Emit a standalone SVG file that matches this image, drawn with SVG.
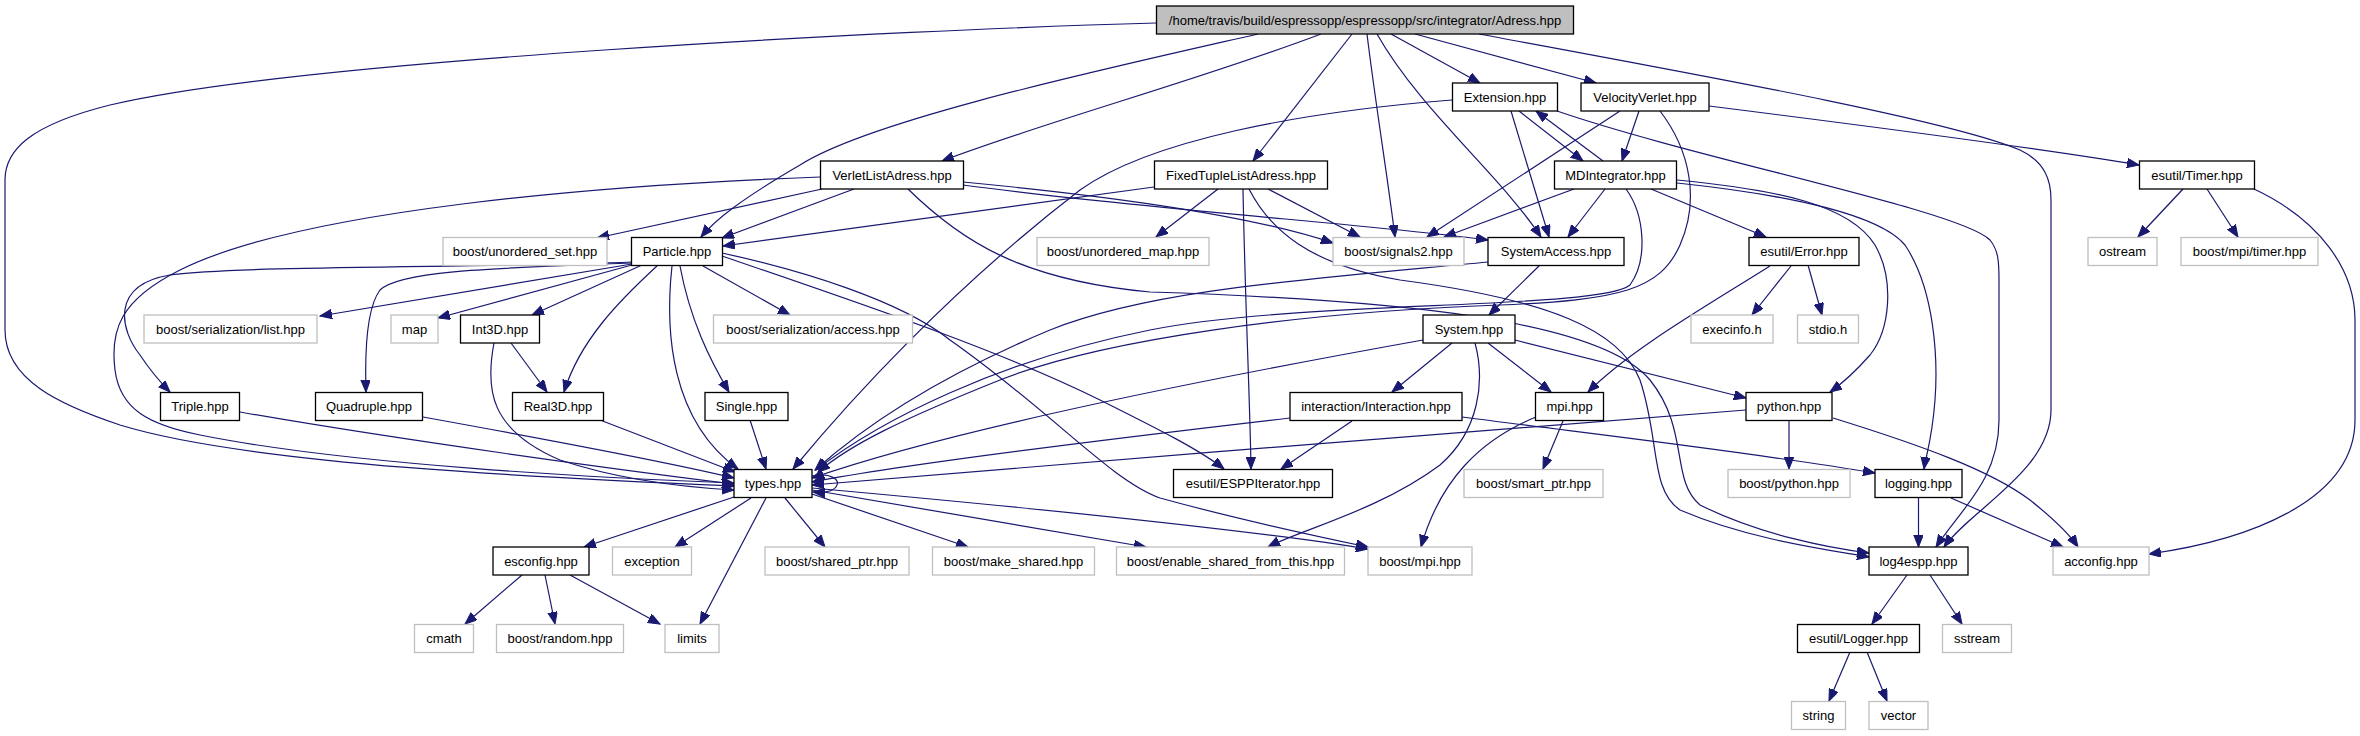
<svg xmlns="http://www.w3.org/2000/svg" width="2360" height="736" viewBox="0 0 2360 736">
<style>
.n rect{fill:#fff;stroke:#000;stroke-width:1.3}
.x rect{fill:#fff;stroke:#bfbfbf;stroke-width:1.3}
.m rect{fill:#bfbfbf;stroke:#000;stroke-width:1.3}
text{font-family:"Liberation Sans",Arial,Helvetica,sans-serif;font-size:13px;fill:#000;text-anchor:middle}
#edges path{fill:none;stroke:#191970;stroke-width:1.2;marker-end:url(#a)}
</style>
<defs>
<marker id="a" markerUnits="userSpaceOnUse" markerWidth="13" markerHeight="10" refX="12" refY="4.75" orient="auto"><path d="M0,0 L12,4.75 L0,9.5 z" fill="#191970" stroke="#191970" stroke-width="1"/></marker>
</defs>
<rect width="2360" height="736" fill="#fff"/>
<g id="edges">
<path d="M1156,23 C900,30 300,60 110,105 C30,125 5,150 5,180 L5,330 C5,380 60,405 120,425 C250,465 550,478 734,486"/>
<path d="M1258,34 C1100,70 870,120 800,165 C740,200 715,220 701,237"/>
<path d="M1321,34 C1200,80 1050,120 942,161"/>
<path d="M1352,34 L1253,161"/>
<path d="M1367,34 C1375,100 1388,180 1395,237"/>
<path d="M1377,34 C1420,110 1500,175 1541,237"/>
<path d="M1391,34 L1480,83"/>
<path d="M1415,34 L1596,83"/>
<path d="M1479,34 C1700,75 1950,120 2020,150 C2045,162 2051,180 2051,200 L2051,410 C2051,470 1970,510 1944,547"/>
<path d="M820,177 C600,185 300,210 180,270 C120,300 110,330 115,370 C120,410 150,425 200,435 C350,465 600,478 734,483"/>
<path d="M822,189 L597,238"/>
<path d="M854,189 L722,238"/>
<path d="M963,182 C1100,195 1250,215 1333,243"/>
<path d="M963,185 C1150,210 1380,225 1488,240"/>
<path d="M908,189 C960,240 1020,280 1150,292 C1400,300 1600,320 1650,380 C1690,430 1670,480 1700,505 C1760,535 1830,548 1869,553"/>
<path d="M1154,187 L723,246"/>
<path d="M1218,189 L1156,237"/>
<path d="M1268,189 L1360,237"/>
<path d="M1243,189 C1245,300 1250,400 1251,469"/>
<path d="M1249,189 C1270,230 1310,265 1400,280 C1550,300 1620,330 1640,380 C1660,440 1650,490 1680,510 C1750,540 1830,550 1869,557"/>
<path d="M1452,100 C1300,112 1150,140 1080,190 C950,290 850,400 793,469"/>
<path d="M1511,111 L1549,237"/>
<path d="M1519,111 L1583,161"/>
<path d="M1557,111 C1700,160 1960,210 1990,240 C1998,250 1999,260 1999,280 L1999,420 C1999,480 1960,510 1936,547"/>
<path d="M1603,161 L1536,111"/>
<path d="M1620,111 L1427,237"/>
<path d="M1639,111 L1622,161"/>
<path d="M1660,111 C1690,150 1700,200 1680,245 C1660,290 1620,300 1500,305 C1300,312 1100,340 1000,380 C900,420 850,445 818,472"/>
<path d="M1709,106 C1900,130 2050,150 2139,165"/>
<path d="M1574,189 L1444,237"/>
<path d="M1605,189 L1568,237"/>
<path d="M1626,189 C1645,215 1648,260 1630,285 C1600,310 1300,300 1150,330 C1000,360 880,420 816,470"/>
<path d="M1651,189 L1766,237"/>
<path d="M1677,180 C1780,190 1850,205 1875,245 C1895,280 1890,330 1870,355 C1855,372 1840,385 1830,392"/>
<path d="M1677,183 C1790,195 1880,215 1905,245 C1935,290 1938,360 1935,400 C1932,440 1926,455 1924,469"/>
<path d="M1488,262 C1300,280 1150,290 1050,330 C930,380 860,430 815,470"/>
<path d="M1540,265 L1489,315"/>
<path d="M1791,266 L1752,315"/>
<path d="M1808,265 L1822,315"/>
<path d="M1770,266 C1700,310 1630,350 1588,392"/>
<path d="M1423,340 C1200,380 950,430 812,478"/>
<path d="M1452,343 L1392,392"/>
<path d="M1488,343 L1551,392"/>
<path d="M1515,340 L1746,398"/>
<path d="M1475,343 C1485,380 1480,430 1440,465 C1380,510 1300,530 1268,547"/>
<path d="M1290,418 C1100,440 900,465 812,482"/>
<path d="M1352,421 L1281,469"/>
<path d="M1462,417 C1600,435 1750,452 1875,473"/>
<path d="M1563,421 L1543,469"/>
<path d="M1536,417 C1480,440 1440,480 1421,547"/>
<path d="M1746,410 C1500,430 1100,460 812,485"/>
<path d="M1789,421 L1789,469"/>
<path d="M1833,418 C1920,445 1990,470 2030,500 C2055,520 2070,535 2078,547"/>
<path d="M1918.5,498 L1918.5,547"/>
<path d="M1951,498 L2063,547"/>
<path d="M812,476 C830,472 842,480 836,487 C832,492 825,493 813,492"/>
<path d="M734,497 L584,547"/>
<path d="M751,498 L675,547"/>
<path d="M766,498 L700,624"/>
<path d="M785,498 L825,547"/>
<path d="M812,494 L968,547"/>
<path d="M812,490 L1146,547"/>
<path d="M812,488 C1000,505 1250,530 1368,549"/>
<path d="M722,253 C800,270 900,300 950,340 C1050,410 1110,480 1160,498 C1240,520 1320,537 1368,547"/>
<path d="M722,256 C850,300 1000,350 1100,400 C1160,430 1200,450 1224,469"/>
<path d="M632,262 C500,268 250,265 170,275 C110,285 120,330 140,355 C150,370 160,382 170,392"/>
<path d="M632,263 C500,268 400,270 380,290 C365,310 365,360 366,392"/>
<path d="M632,264 L320,316"/>
<path d="M632,265 L438,318"/>
<path d="M642,265 L532,315"/>
<path d="M657,266 C620,300 580,340 564,392"/>
<path d="M672,266 C665,330 670,420 738,469"/>
<path d="M680,266 C690,320 710,360 729,392"/>
<path d="M703,266 L790,315"/>
<path d="M511,343 L547,392"/>
<path d="M494,343 C485,390 490,430 560,460 C620,480 680,487 734,490"/>
<path d="M240,412 C400,440 620,470 734,484"/>
<path d="M423,417 C550,440 680,465 734,478"/>
<path d="M600,420 L735,472"/>
<path d="M750,420 L766,469"/>
<path d="M522,575 L465,624"/>
<path d="M545,575 L555,624"/>
<path d="M570,575 L660,624"/>
<path d="M1907,575 L1872,624"/>
<path d="M1930,575 L1962,624"/>
<path d="M1850,652 L1829,701"/>
<path d="M1867,652 L1887,701"/>
<path d="M2183,189 L2138,237"/>
<path d="M2207,189 L2238,237"/>
<path d="M2254,189 C2320,220 2355,270 2355,320 L2355,420 C2355,500 2250,540 2149,554"/>
</g>
<g id="main" class="m"><rect x="1156.5" y="6" width="417" height="28"/><text x="1365" y="24.5">/home/travis/build/espressopp/espressopp/src/integrator/Adress.hpp</text></g>
<g id="extension" class="n"><rect x="1452.5" y="83" width="105" height="28"/><text x="1505" y="101.5">Extension.hpp</text></g>
<g id="velocityverlet" class="n"><rect x="1581" y="83" width="128" height="28"/><text x="1645" y="101.5">VelocityVerlet.hpp</text></g>
<g id="verletlistadress" class="n"><rect x="820.5" y="161" width="143" height="28"/><text x="892" y="179.5">VerletListAdress.hpp</text></g>
<g id="fixedtuplelistadress" class="n"><rect x="1154.5" y="161" width="173" height="28"/><text x="1241" y="179.5">FixedTupleListAdress.hpp</text></g>
<g id="mdintegrator" class="n"><rect x="1554.5" y="161" width="122" height="28"/><text x="1615.5" y="179.5">MDIntegrator.hpp</text></g>
<g id="timer" class="n"><rect x="2139.5" y="161" width="115" height="28"/><text x="2197" y="179.5">esutil/Timer.hpp</text></g>
<g id="unordered_set" class="x"><rect x="443" y="237.5" width="164" height="28"/><text x="525" y="256">boost/unordered_set.hpp</text></g>
<g id="particle" class="n"><rect x="631.5" y="237.5" width="91" height="28"/><text x="677" y="256">Particle.hpp</text></g>
<g id="unordered_map" class="x"><rect x="1037" y="237.5" width="172" height="28"/><text x="1123" y="256">boost/unordered_map.hpp</text></g>
<g id="signals2" class="x"><rect x="1333" y="237.5" width="131" height="28"/><text x="1398.5" y="256">boost/signals2.hpp</text></g>
<g id="systemaccess" class="n"><rect x="1488" y="237.5" width="136" height="28"/><text x="1556" y="256">SystemAccess.hpp</text></g>
<g id="error" class="n"><rect x="1749" y="237.5" width="110" height="28"/><text x="1804" y="256">esutil/Error.hpp</text></g>
<g id="ostream" class="x"><rect x="2088" y="237.5" width="69" height="28"/><text x="2122.5" y="256">ostream</text></g>
<g id="mpitimer" class="x"><rect x="2181" y="237.5" width="137" height="28"/><text x="2249.5" y="256">boost/mpi/timer.hpp</text></g>
<g id="serlist" class="x"><rect x="144" y="315" width="173" height="28"/><text x="230.5" y="333.5">boost/serialization/list.hpp</text></g>
<g id="map" class="x"><rect x="391" y="315" width="47" height="28"/><text x="414.5" y="333.5">map</text></g>
<g id="int3d" class="n"><rect x="460.5" y="315" width="79" height="28"/><text x="500" y="333.5">Int3D.hpp</text></g>
<g id="seraccess" class="x"><rect x="713.5" y="315" width="199" height="28"/><text x="813" y="333.5">boost/serialization/access.hpp</text></g>
<g id="system" class="n"><rect x="1423" y="315" width="92" height="28"/><text x="1469" y="333.5">System.hpp</text></g>
<g id="execinfo" class="x"><rect x="1691" y="315" width="82" height="28"/><text x="1732" y="333.5">execinfo.h</text></g>
<g id="stdio" class="x"><rect x="1797.5" y="315" width="61" height="28"/><text x="1828" y="333.5">stdio.h</text></g>
<g id="triple" class="n"><rect x="160.5" y="392.5" width="79" height="28"/><text x="200" y="411">Triple.hpp</text></g>
<g id="quadruple" class="n"><rect x="315.5" y="392.5" width="107" height="28"/><text x="369" y="411">Quadruple.hpp</text></g>
<g id="real3d" class="n"><rect x="512.5" y="392.5" width="91" height="28"/><text x="558" y="411">Real3D.hpp</text></g>
<g id="single" class="n"><rect x="705" y="392.5" width="83" height="28"/><text x="746.5" y="411">Single.hpp</text></g>
<g id="interaction" class="n"><rect x="1290" y="392.5" width="172" height="28"/><text x="1376" y="411">interaction/Interaction.hpp</text></g>
<g id="mpi" class="n"><rect x="1535.5" y="392.5" width="68" height="28"/><text x="1569.5" y="411">mpi.hpp</text></g>
<g id="python" class="n"><rect x="1746" y="392.5" width="86" height="28"/><text x="1789" y="411">python.hpp</text></g>
<g id="types" class="n"><rect x="734" y="469.5" width="78" height="28"/><text x="773" y="488">types.hpp</text></g>
<g id="esppiterator" class="n"><rect x="1173.5" y="469.5" width="159" height="28"/><text x="1253" y="488">esutil/ESPPIterator.hpp</text></g>
<g id="smart_ptr" class="x"><rect x="1464" y="469.5" width="139" height="28"/><text x="1533.5" y="488">boost/smart_ptr.hpp</text></g>
<g id="boostpython" class="x"><rect x="1728" y="469.5" width="122" height="28"/><text x="1789" y="488">boost/python.hpp</text></g>
<g id="logging" class="n"><rect x="1875" y="469.5" width="87" height="28"/><text x="1918.5" y="488">logging.hpp</text></g>
<g id="esconfig" class="n"><rect x="493" y="547" width="96" height="28"/><text x="541" y="565.5">esconfig.hpp</text></g>
<g id="exception" class="x"><rect x="612.5" y="547" width="79" height="28"/><text x="652" y="565.5">exception</text></g>
<g id="shared_ptr" class="x"><rect x="765" y="547" width="144" height="28"/><text x="837" y="565.5">boost/shared_ptr.hpp</text></g>
<g id="make_shared" class="x"><rect x="932.5" y="547" width="162" height="28"/><text x="1013.5" y="565.5">boost/make_shared.hpp</text></g>
<g id="enable_shared" class="x"><rect x="1116.5" y="547" width="228" height="28"/><text x="1230.5" y="565.5">boost/enable_shared_from_this.hpp</text></g>
<g id="boostmpi" class="x"><rect x="1368" y="547" width="104" height="28"/><text x="1420" y="565.5">boost/mpi.hpp</text></g>
<g id="log4espp" class="n"><rect x="1869" y="547" width="99" height="28"/><text x="1918.5" y="565.5">log4espp.hpp</text></g>
<g id="acconfig" class="x"><rect x="2053" y="547" width="96" height="28"/><text x="2101" y="565.5">acconfig.hpp</text></g>
<g id="cmath" class="x"><rect x="414.5" y="624.5" width="59" height="28"/><text x="444" y="643">cmath</text></g>
<g id="random" class="x"><rect x="496.5" y="624.5" width="127" height="28"/><text x="560" y="643">boost/random.hpp</text></g>
<g id="limits" class="x"><rect x="665" y="624.5" width="54" height="28"/><text x="692" y="643">limits</text></g>
<g id="logger" class="n"><rect x="1797.5" y="624.5" width="122" height="28"/><text x="1858.5" y="643">esutil/Logger.hpp</text></g>
<g id="sstream" class="x"><rect x="1942.5" y="624.5" width="69" height="28"/><text x="1977" y="643">sstream</text></g>
<g id="string" class="x"><rect x="1791.5" y="701.5" width="54" height="28"/><text x="1818.5" y="720">string</text></g>
<g id="vector" class="x"><rect x="1869" y="701.5" width="59" height="28"/><text x="1898.5" y="720">vector</text></g>
</svg>
